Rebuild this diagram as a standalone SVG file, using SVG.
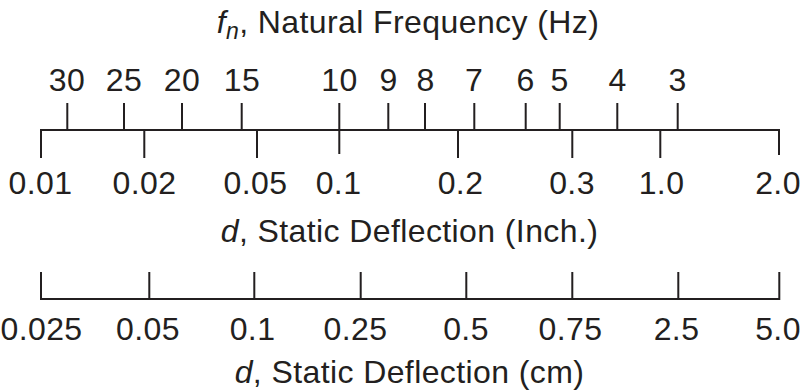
<svg xmlns="http://www.w3.org/2000/svg" width="804" height="392" viewBox="0 0 804 392">
<style>
text{font-family:"Liberation Sans",Arial,Helvetica,sans-serif;font-size:32px;fill:#231f20;letter-spacing:0.4px;text-anchor:middle}
.ax{stroke:#231f20;stroke-width:2;fill:none}
.it{font-style:italic}
</style>
<rect width="804" height="392" fill="#fff"/>
<g id="title-top">
<text x="408" y="33"><tspan class="it">f</tspan><tspan class="it" font-size="23" dy="6">n</tspan><tspan dy="-6">, Natural Frequency (Hz)</tspan></text>
</g>
<g id="freq-labels">
<text x="67" y="90.5">30</text>
<text x="124" y="90.5">25</text>
<text x="182" y="90.5">20</text>
<text x="242" y="90.5">15</text>
<text x="339.5" y="90.5">10</text>
<text x="388.5" y="90.5">9</text>
<text x="425.5" y="90.5">8</text>
<text x="474" y="90.5">7</text>
<text x="525.5" y="90.5">6</text>
<text x="559.5" y="90.5">5</text>
<text x="617.5" y="90.5">4</text>
<text x="677.5" y="90.5">3</text>
</g>
<g id="axis-inch">
<path class="ax" d="M41,158V130H779V155"/>
<path class="ax" d="M67.3,103V130M124,103V130M182,103V130M241.7,103V130M339.3,103V154M388.3,103V130M425,103V130M474.3,103V130M525.7,103V130M559.7,103V130M617.3,103V130M677.7,103V130"/>
<path class="ax" d="M144.3,130V158M257,130V158M458,130V158M572.3,130V158M660.3,130V158"/>
</g>
<g id="inch-labels">
<text x="40.5" y="194">0.01</text>
<text x="144.5" y="194">0.02</text>
<text x="255.5" y="194">0.05</text>
<text x="338.5" y="194">0.1</text>
<text x="460.5" y="194">0.2</text>
<text x="572" y="194">0.3</text>
<text x="661.5" y="194">1.0</text>
<text x="778" y="194">2.0</text>
</g>
<g id="title-inch">
<text x="409.5" y="242"><tspan class="it">d</tspan>, Static Deflection (Inch.)</text>
</g>
<g id="axis-cm">
<path class="ax" d="M41,272V299H779.3V272"/>
<path class="ax" d="M149.3,272V299M254.3,272V299M360.7,272V299M466.3,272V299M572.3,272V299M678.3,272V299"/>
</g>
<g id="cm-labels">
<text x="41.5" y="339.5">0.025</text>
<text x="148" y="339.5">0.05</text>
<text x="252.5" y="339.5">0.1</text>
<text x="355.5" y="339.5">0.25</text>
<text x="466" y="339.5">0.5</text>
<text x="570.5" y="339.5">0.75</text>
<text x="676.5" y="339.5">2.5</text>
<text x="778" y="339.5">5.0</text>
</g>
<g id="title-cm">
<text x="409.5" y="383"><tspan class="it">d</tspan>, Static Deflection (cm)</text>
</g>
</svg>
